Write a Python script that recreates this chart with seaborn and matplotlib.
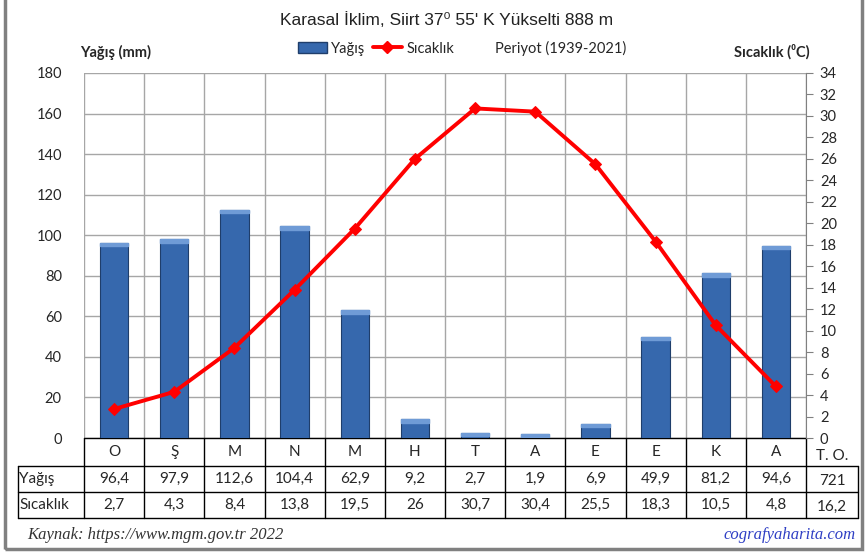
import numpy as np
import matplotlib.pyplot as plt
import matplotlib.patches as mpatches
from matplotlib.lines import Line2D
import seaborn as sns

months = ["O", "Ş", "M", "N", "M", "H", "T", "A", "E", "E", "K", "A"]
rain = [96.4, 97.9, 112.6, 104.4, 62.9, 9.2, 2.7, 1.9, 6.9, 49.9, 81.2, 94.6]
temp = [2.7, 4.3, 8.4, 13.8, 19.5, 26, 30.7, 30.4, 25.5, 18.3, 10.5, 4.8]
rain_total = "721"
temp_mean = "16,2"

sns.set_style("white")
plt.rcParams['font.family'] = ['Lato', 'DejaVu Sans']

fig = plt.figure(figsize=(8.66, 5.53), dpi=100)
W, H = 866, 553
ax = fig.add_axes([84 / W, 1 - 438 / H, 722 / W, 365 / H])

pos = np.arange(len(months))
sns.barplot(x=pos, y=rain, ax=ax, color="#3668ad", width=0.47,
            edgecolor="#1f3e6b", linewidth=0.8, saturation=1, zorder=3)
# lighter top cap for the 3D look
for p in ax.patches:
    cap = mpatches.Rectangle((p.get_x(), p.get_height() - 1.6), p.get_width(), 1.6,
                             color="#6f9bd6", zorder=4)
    ax.add_patch(cap)

ax.set_xlim(-0.5, 11.5)
ax.set_ylim(0, 180)
ax.set_yticks(range(0, 181, 20))
ax.set_xticks(np.arange(-0.5, 12, 1))
ax.set_xticklabels([])
ax.tick_params(axis='x', length=0)
ax.tick_params(axis='y', length=0, pad=16, labelsize=10.5)
ax.grid(True, color="#a6a6a6", linewidth=1)
ax.set_axisbelow(True)
for s in ax.spines.values():
    s.set_visible(False)
ax.set_xlabel("")

ax2 = ax.twinx()
sns.lineplot(x=pos, y=temp, ax=ax2, color="#ff0000", linewidth=2.8,
             marker="D", markersize=6, markeredgecolor="#ff0000", zorder=5)
ax2.set_ylim(0, 34)
ax2.set_yticks(range(0, 35, 2))
ax2.tick_params(axis='y', length=5, color="#808080", labelsize=10.5, pad=5)
for s in ax2.spines.values():
    s.set_visible(False)
ax2.spines['right'].set_visible(True)
ax2.spines['right'].set_color("#808080")
ax2.set_ylabel("")

# table under the chart
tr = ax.get_xaxis_transform()
ypx = [438, 466, 492, 518]
yf = [(438 - y) / 365 for y in ypx]
xl = -0.5 - 66 / 60.17
xr = 11.5 + 52 / 60.17
lk = dict(color="black", linewidth=1, transform=tr, clip_on=False)
ax.plot([-0.5, 11.5], [yf[0], yf[0]], **lk)
for y in yf[1:]:
    ax.plot([xl, xr], [y, y], **lk)
for x in np.arange(-0.5, 12, 1):
    ax.plot([x, x], [yf[0], yf[3]], **lk)
ax.plot([xl, xl], [yf[1], yf[3]], **lk)
ax.plot([xr, xr], [yf[1], yf[3]], **lk)

tk = dict(transform=tr, ha="center", va="center", fontsize=11, clip_on=False)
for i in range(12):
    ax.text(i, (yf[0] + yf[1]) / 2, months[i], **tk)
    ax.text(i, (yf[1] + yf[2]) / 2, f"{rain[i]:g}".replace(".", ","), **tk)
    ax.text(i, (yf[2] + yf[3]) / 2, f"{temp[i]:g}".replace(".", ","), **tk)
ax.text(11.5 + 26 / 60.17, (yf[0] + yf[1]) / 2 - 0.012, "T. O.", **tk)
ax.text(11.5 + 26 / 60.17, (yf[1] + yf[2]) / 2 - 0.005, rain_total, **tk)
ax.text(11.5 + 26 / 60.17, (yf[2] + yf[3]) / 2 - 0.005, temp_mean, **tk)
ax.text(xl + 0.02, (yf[1] + yf[2]) / 2, "Yağış", transform=tr, ha="left",
        va="center", fontsize=11, clip_on=False)
ax.text(xl + 0.02, (yf[2] + yf[3]) / 2, "Sıcaklık", transform=tr, ha="left",
        va="center", fontsize=11, clip_on=False)

# titles and labels
fig.text(0.5 + 14 / W, 1 - 20 / H, "Karasal İklim, Siirt 37⁰ 55' K Yükselti 888 m",
         ha="center", va="center", fontsize=12.5,
         family=['Liberation Sans', 'DejaVu Sans'], color="#222222")
fig.text(80 / W, 1 - 52 / H, "Yağış (mm)", ha="left", va="center",
         fontsize=10.5, fontweight="bold")
fig.text(810 / W, 1 - 52 / H, "Sıcaklık (⁰C)", ha="right", va="center",
         fontsize=10.5, fontweight="bold")

handles = [mpatches.Patch(facecolor="#3668ad", edgecolor="#1f3e6b"),
           Line2D([], [], color="#ff0000", linewidth=2.8, marker="D", markersize=6),
           Line2D([], [], linestyle="none")]
fig.legend(handles, ["Yağış", "Sıcaklık", "Periyot (1939-2021)"], ncol=3,
           loc="center", bbox_to_anchor=(462 / W, 1 - 48 / H), frameon=False,
           fontsize=10.5, handlelength=2.0, handletextpad=0.3, columnspacing=0.5)

fig.text(27 / W, 1 - 535 / H, "Kaynak: https://www.mgm.gov.tr 2022", ha="left",
         va="center", fontsize=12, style="italic", family="Liberation Serif",
         color="#333333")
fig.text(856 / W, 1 - 535 / H, "cografyaharita.com", ha="right", va="center",
         fontsize=12, style="italic", family="Liberation Serif", color="#2f3fc4")

fig.patches.append(mpatches.Rectangle((5 / W, 4 / H), 857 / W, 1.05, fill=False,
                                      edgecolor="#808080", linewidth=2.5,
                                      transform=fig.transFigure))

fig.savefig("out.png", dpi=100)
